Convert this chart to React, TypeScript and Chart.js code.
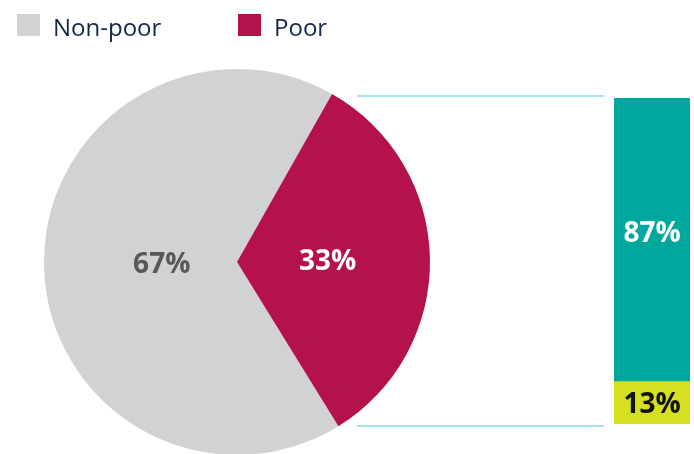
import { useEffect, useRef } from "react";
import { Chart, registerables } from "chart.js";

Chart.register(...registerables);

// ---- data ----
const pieLabels = ["Non-poor", "Poor"];
const pieValues = [67, 33];
const barCategories = ["Poor"];
const barSeriesNames = ["Lower share", "Upper share"];
const barLower = [13];
const barUpper = [87];

// ---- styles ----
const pieColors = ["#d1d2d4", "#b5124d"];
const pieLabelColors = ["#58595b", "#ffffff"];
const pieLabelRadius = [0.39, 0.47];
const barColors = ["#d4e021", "#00a79d"];
const barLabelColors = ["#111111", "#ffffff"];
const barLabelOffset = [0, -8];
const connectorColor = "#a6e1f7";
const W = 694;
const H = 454;
const labelFont = "bold 28px 'Open Sans', sans-serif";

const pieDecor = {
  id: "pieDecor",
  afterDraw(chart: any) {
    const ctx = chart.ctx;
    const meta = chart.getDatasetMeta(0);
    const ds = chart.data.datasets[0];
    ctx.save();
    // slice labels
    ctx.font = labelFont;
    ctx.textAlign = "center";
    ctx.textBaseline = "alphabetic";
    meta.data.forEach((arc: any, i: number) => {
      const { x, y, startAngle, endAngle, outerRadius } = arc.getProps(
        ["x", "y", "startAngle", "endAngle", "outerRadius"],
        true
      );
      const mid = (startAngle + endAngle) / 2;
      const r = outerRadius * pieLabelRadius[i];
      ctx.fillStyle = pieLabelColors[i];
      ctx.fillText(
        ds.data[i] + "%",
        x + Math.cos(mid) * r,
        y + Math.sin(mid) * r + 10
      );
    });
    // legend
    const boxX = [17, 238];
    ctx.font = "24px 'Open Sans', sans-serif";
    ctx.textAlign = "left";
    chart.data.labels.forEach((lab: string, i: number) => {
      ctx.fillStyle = ds.backgroundColor[i];
      ctx.fillRect(boxX[i], 14, 23, 22);
      ctx.fillStyle = "#14284b";
      ctx.fillText(lab, boxX[i] + 36, 36);
    });
    ctx.restore();
  },
};

const barDecor = {
  id: "barDecor",
  beforeDatasetsDraw(chart: any) {
    const ctx = chart.ctx;
    const y = chart.scales.y;
    const top = y.getPixelForValue(100) - 2;
    const bottom = y.getPixelForValue(0) + 2;
    ctx.save();
    ctx.strokeStyle = connectorColor;
    ctx.lineWidth = 2;
    ctx.beginPath();
    ctx.moveTo(357, top);
    ctx.lineTo(604, top);
    ctx.moveTo(357, bottom);
    ctx.lineTo(604, bottom);
    ctx.stroke();
    ctx.restore();
  },
  afterDatasetsDraw(chart: any) {
    const ctx = chart.ctx;
    ctx.save();
    ctx.font = labelFont;
    ctx.textAlign = "center";
    ctx.textBaseline = "alphabetic";
    chart.data.datasets.forEach((ds: any, i: number) => {
      const meta = chart.getDatasetMeta(i);
      meta.data.forEach((bar: any, j: number) => {
        const { x, y, base } = bar.getProps(["x", "y", "base"], true);
        const cy = (y + base) / 2 + barLabelOffset[i];
        ctx.fillStyle = barLabelColors[i];
        ctx.fillText(ds.data[j] + "%", x, cy + 10);
      });
    });
    ctx.restore();
  },
};

export default function App() {
  const pieRef = useRef<HTMLCanvasElement>(null);
  const barRef = useRef<HTMLCanvasElement>(null);

  useEffect(() => {
    const pie = new Chart(pieRef.current!, {
      type: "pie",
      data: {
        labels: pieLabels,
        datasets: [
          {
            data: pieValues,
            backgroundColor: pieColors,
            borderWidth: 0,
            radius: 193,
          } as any,
        ],
      },
      options: {
        responsive: false,
        animation: false,
        rotation: 148.3,
        layout: { padding: { left: 0, right: W - 474, top: 70, bottom: 0 } },
        plugins: { legend: { display: false }, tooltip: { enabled: false } },
      },
      plugins: [pieDecor],
    });

    const bar = new Chart(barRef.current!, {
      type: "bar",
      data: {
        labels: barCategories,
        datasets: [
          {
            label: barSeriesNames[0],
            data: barLower,
            backgroundColor: barColors[0],
            borderWidth: 0,
          },
          {
            label: barSeriesNames[1],
            data: barUpper,
            backgroundColor: barColors[1],
            borderWidth: 0,
          },
        ],
      },
      options: {
        responsive: false,
        animation: false,
        layout: { padding: { left: 614, right: 4, top: 98, bottom: H - 424 } },
        datasets: { bar: { barPercentage: 1, categoryPercentage: 1 } },
        scales: {
          x: { stacked: true, display: false },
          y: { stacked: true, display: false, min: 0, max: 100 },
        },
        plugins: { legend: { display: false }, tooltip: { enabled: false } },
      },
      plugins: [barDecor],
    });

    return () => {
      pie.destroy();
      bar.destroy();
    };
  }, []);

  return (
    <div
      style={{
        position: "fixed",
        left: 0,
        top: 0,
        width: W,
        height: H,
        background: "#ffffff",
        overflow: "hidden",
      }}
    >
      <canvas
        ref={pieRef}
        width={W}
        height={H}
        style={{ position: "absolute", left: 0, top: 0 }}
      />
      <canvas
        ref={barRef}
        width={W}
        height={H}
        style={{ position: "absolute", left: 0, top: 0 }}
      />
    </div>
  );
}
